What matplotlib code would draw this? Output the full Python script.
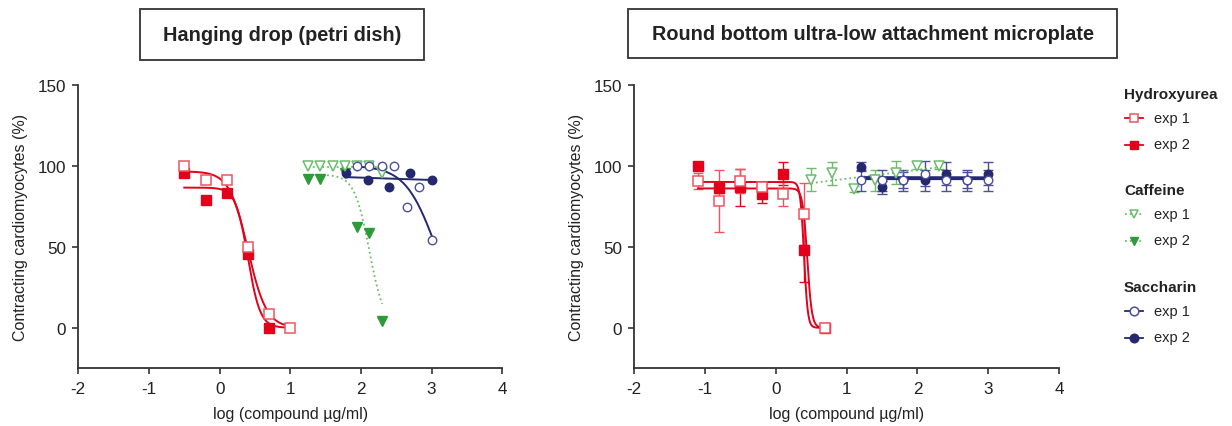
import numpy as np
import matplotlib
matplotlib.use("Agg")
import matplotlib.pyplot as plt
from matplotlib.lines import Line2D
from matplotlib.patches import Rectangle

plt.rcParams['font.family'] = ['Liberation Sans', 'DejaVu Sans']

# ---------------- data ----------------
titles = ["Hanging drop (petri dish)", "Round bottom ultra-low attachment microplate"]
xticks = [-2, -1, 0, 1, 2, 3, 4]
yticks = [0, 50, 100, 150]

# Left panel (hanging drop)
hd_hu1_x = [-0.5, -0.2, 0.1, 0.4, 0.7, 1.0]
hd_hu1_y = [100, 91.4, 91.4, 50, 8.2, 0]
hd_hu2_x = [-0.5, -0.2, 0.1, 0.4, 0.7]
hd_hu2_y = [95.5, 78.6, 82.9, 45.5, 0]
hd_caf1_x = [1.25, 1.42, 1.6, 1.78, 1.95, 2.12, 2.3]
hd_caf1_y = [100, 100, 100, 100, 100, 100, 95.5]
hd_caf2_x = [1.25, 1.42, 1.78, 1.95, 2.12, 2.3]
hd_caf2_y = [91.6, 91.6, 95.5, 62.3, 58.2, 4.3]
hd_sac1_x = [1.95, 2.12, 2.3, 2.47, 2.65, 2.82, 3.0]
hd_sac1_y = [100, 100, 100, 100, 74.7, 87, 54.1]
hd_sac2_x = [1.79, 2.1, 2.4, 2.7, 3.0]
hd_sac2_y = [95.5, 91.2, 87, 95.5, 91.2]

# fitted sigmoid parameters (top, logIC50, hill)
hd_hu1_fit = [96.5, 0.40, 3.3]
hd_hu2_fit = [86.5, 0.40, 5.0]
hd_caf2_fit = [94.5, 2.12, 4.08]
hd_sac1_fit = [100.0, 3.06, 2.0]

# Right panel (ULA microplate)
ula_hu_x = [-1.1, -0.8, -0.5, -0.2, 0.1, 0.4, 0.7]
ula_hu1_y = [90.7, 78.4, 90.7, 86.6, 82.7, 70.3, 0]
ula_hu1_sd = [5, 19, 7.5, 2, 7.3, 19, 0]
ula_hu2_y = [99.8, 86.2, 86.6, 82.7, 95, 48, 0]
ula_hu2_sd = [2, 3, 11.5, 6, 7, 20, 0]
ula_caf_x = [0.5, 0.8, 1.1, 1.4, 1.7, 2.0, 2.3]
ula_caf1_y = [91.3, 95.4, 85.6, 90.9, 95.8, 100, 100]
ula_caf1_sd = [7, 7, 2, 6.5, 7, 2, 2]
ula_sac_x = [1.2, 1.5, 1.8, 2.1, 2.4, 2.7, 3.0]
ula_sac1_y = [90.9, 90.9, 90.9, 95.2, 90.9, 90.9, 90.9]
ula_sac1_sd = [6.7, 6.7, 6.7, 7.6, 6.7, 6.7, 6.7]
ula_sac2_y = [99.5, 86.8, 91.3, 90.9, 95.2, 91.0, 95.2]
ula_sac2_sd = [3, 4, 5, 6.5, 7, 5, 7]

ula_hu1_fit = [86.0, 0.443, 13.2]
ula_hu2_fit = [90.0, 0.3975, 16.4]

# ---------------- style ----------------
RED = '#e2001a'
RED_L = '#ee5560'
GREEN = '#2e9a38'
GREEN_L = '#6cbc6c'
NAVY = '#24286e'
NAVY_L = '#4d4f9c'
AX = '#333333'


def sig(x, p):
    top, L, h = p
    return top / (1.0 + 10 ** (h * (x - L)))


W, H = 1232, 427
fig = plt.figure(figsize=(W / 100, H / 100), dpi=100)

axL = fig.add_axes([78.3 / W, 1 - 369.3 / H, 424 / W, (369.3 - 85.7) / H])
axR = fig.add_axes([634.3 / W, 1 - 369.3 / H, 424.7 / W, (369.3 - 85.7) / H])

for ax in (axL, axR):
    ax.set_xlim(-2, 4)
    ax.set_ylim(-25, 150)
    ax.set_xticks(xticks)
    ax.set_yticks(yticks)
    ax.set_xticklabels([str(t) for t in xticks])
    for s in ('top', 'right'):
        ax.spines[s].set_visible(False)
    for s in ('left', 'bottom'):
        ax.spines[s].set_color(AX)
        ax.spines[s].set_linewidth(1.3)
    ax.tick_params(direction='out', length=4, width=1.2, color=AX,
                   labelsize=12.3, labelcolor='#222222', pad=5)
    ax.set_xlabel('log (compound µg/ml)', fontsize=11.5, color='#222222', labelpad=7)
    ax.set_ylabel('Contracting cardiomyocytes (%)', fontsize=11.5, color='#222222', labelpad=7)

ms = 6.6
# ---------- left panel ----------
ax = axL
xx = np.linspace(min(hd_hu1_x), max(hd_hu1_x), 300)
ax.plot(xx, sig(xx, hd_hu1_fit), color=RED, lw=1.4, zorder=2)
ax.plot(xx, sig(xx, hd_hu2_fit), color=RED, lw=1.4, zorder=2)
ax.plot(hd_hu2_x, hd_hu2_y, 's', color=RED, ms=ms, zorder=3)
ax.plot(hd_hu1_x, hd_hu1_y, 's', mfc='white', mec=RED_L, mew=1.1, ms=ms, zorder=4)

c1 = np.polyfit(hd_caf1_x, hd_caf1_y, 0)
xx = np.linspace(min(hd_caf1_x), max(hd_caf1_x), 100)
ax.plot(xx, np.polyval(c1, xx), ':', color=GREEN_L, lw=1.3, zorder=2)
xx = np.linspace(min(hd_caf2_x), max(hd_caf2_x), 300)
ax.plot(xx, sig(xx, hd_caf2_fit), ':', color=GREEN_L, lw=1.3, zorder=2)
ax.plot(hd_caf2_x, hd_caf2_y, 'v', color=GREEN, ms=ms, zorder=3)
ax.plot(hd_caf1_x, hd_caf1_y, 'v', mfc='white', mec=GREEN_L, mew=1.1, ms=ms, zorder=4)

xx = np.linspace(min(hd_sac1_x), max(hd_sac1_x), 300)
ax.plot(xx, sig(xx, hd_sac1_fit), color=NAVY, lw=1.4, zorder=2)
c2 = np.polyfit(hd_sac2_x, hd_sac2_y, 1)
xx = np.linspace(min(hd_sac2_x), max(hd_sac2_x), 100)
ax.plot(xx, np.polyval(c2, xx), color=NAVY, lw=1.4, zorder=2)
ax.plot(hd_sac2_x, hd_sac2_y, 'o', color=NAVY, ms=ms - 0.5, zorder=3)
ax.plot(hd_sac1_x, hd_sac1_y, 'o', mfc='white', mec=NAVY_L, mew=1.0, ms=ms - 0.5, zorder=4)

# ---------- right panel ----------
ax = axR
ekw = dict(capsize=3.5, elinewidth=1.0, capthick=1.0, ls='none')
xx = np.linspace(min(ula_hu_x), max(ula_hu_x), 600)
ax.plot(xx, sig(xx, ula_hu1_fit), color=RED, lw=1.4, zorder=2)
ax.plot(xx, sig(xx, ula_hu2_fit), color=RED, lw=1.4, zorder=2)
ax.errorbar(ula_hu_x, ula_hu2_y, yerr=ula_hu2_sd, ecolor=RED, fmt='none', **ekw, zorder=1.5)
ax.errorbar(ula_hu_x, ula_hu1_y, yerr=ula_hu1_sd, ecolor=RED_L, fmt='none', **ekw, zorder=1.5)
ax.plot(ula_hu_x, ula_hu2_y, 's', color=RED, ms=ms, zorder=3)
ax.plot(ula_hu_x, ula_hu1_y, 's', mfc='white', mec=RED_L, mew=1.1, ms=ms, zorder=4)

c3 = np.polyfit(ula_caf_x, ula_caf1_y, 1)
xx = np.linspace(min(ula_caf_x), max(ula_caf_x), 100)
ax.plot(xx, np.polyval(c3, xx), ':', color=GREEN_L, lw=1.3, zorder=2)
ax.errorbar(ula_caf_x, ula_caf1_y, yerr=ula_caf1_sd, ecolor=GREEN_L, fmt='none', **ekw, zorder=1.5)
ax.plot(ula_caf_x, ula_caf1_y, 'v', mfc='white', mec=GREEN_L, mew=1.1, ms=ms, zorder=4)

xx = np.linspace(min(ula_sac_x), max(ula_sac_x), 100)
for yy in (ula_sac1_y, ula_sac2_y):
    c = np.polyfit(ula_sac_x, yy, 1)
    ax.plot(xx, np.polyval(c, xx), color=NAVY, lw=1.6, zorder=2)
ax.errorbar(ula_sac_x, ula_sac2_y, yerr=ula_sac2_sd, ecolor=NAVY_L, fmt='none', **ekw, zorder=1.5)
ax.errorbar(ula_sac_x, ula_sac1_y, yerr=ula_sac1_sd, ecolor=NAVY_L, fmt='none', **ekw, zorder=1.5)
ax.plot(ula_sac_x, ula_sac2_y, 'o', color=NAVY, ms=ms - 0.5, zorder=3)
ax.plot(ula_sac_x, ula_sac1_y, 'o', mfc='white', mec=NAVY_L, mew=1.0, ms=ms - 0.5, zorder=4)

# ---------- title boxes ----------
for (x0, x1, y0, y1), t in zip([(140, 424, 10, 61), (628, 1117, 10, 59)], titles):
    fig.add_artist(Rectangle((x0 / W, 1 - y1 / H), (x1 - x0) / W, (y1 - y0) / H,
                             transform=fig.transFigure, fill=False, ec=AX, lw=1.3))
    fig.text((x0 + x1) / 2 / W, 1 - (y0 + y1) / 2 / H, t, ha='center', va='center',
             fontsize=14.3, fontweight='bold', color='#222222')

# ---------- legend ----------
groups = [
    ("Hydroxyurea", 95, [('s', 'open', RED, RED_L, '-'), ('s', 'filled', RED, RED, '-')]),
    ("Caffeine", 191, [('v', 'open', GREEN_L, GREEN_L, ':'), ('v', 'filled', GREEN_L, GREEN, ':')]),
    ("Saccharin", 288, [('o', 'open', NAVY, NAVY_L, '-'), ('o', 'filled', NAVY, NAVY, '-')]),
]
for name, ty, entries in groups:
    fig.text(1124 / W, 1 - ty / H, name, ha='left', va='center', fontsize=11,
             fontweight='bold', color='#222222')
    for i, (mk, kind, lc, mc, ls) in enumerate(entries):
        yy = 1 - (ty + 24 + 26.5 * i) / H
        fig.add_artist(Line2D([1125 / W, 1143 / W], [yy, yy], transform=fig.transFigure,
                              color=lc, lw=1.3, ls=ls))
        if kind == 'open':
            fig.add_artist(Line2D([1134 / W], [yy], transform=fig.transFigure, marker=mk,
                                  mfc='white', mec=mc, mew=1.1, ms=ms - 0.4, ls='none'))
        else:
            fig.add_artist(Line2D([1134 / W], [yy], transform=fig.transFigure, marker=mk,
                                  color=mc, ms=ms - 0.4, ls='none'))
        fig.text(1154 / W, yy, f"exp {i + 1}", ha='left', va='center', fontsize=10.5,
                 color='#222222')

fig.savefig('out.png', dpi=100, facecolor='white')
